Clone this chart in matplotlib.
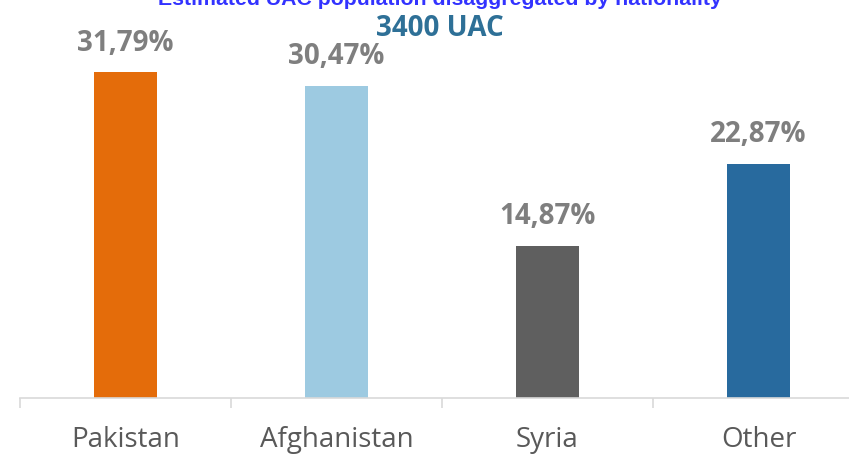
import numpy as np
import matplotlib
matplotlib.use("Agg")
import matplotlib.pyplot as plt

# data
countries = ["Pakistan", "Afghanistan", "Syria", "Other"]
shares = [31.79, 30.47, 14.87, 22.87]
labels = ["31,79%", "30,47%", "14,87%", "22,87%"]
colors = ["#E46C0A", "#9DCAE1", "#5F5F5F", "#286A9E"]

fig = plt.figure(figsize=(8.49, 4.54), dpi=100)
# axes: x from px 20 to ~864, baseline at px 398, top at px 0
ax = fig.add_axes([20 / 849, 1 - 398 / 454, 844 / 849, 398 / 454])

x = np.arange(len(countries))
ax.bar(x, shares, width=0.30, color=colors, zorder=2)

for xi, v, lab in zip(x, shares, labels):
    ax.annotate(lab, (xi, v), xytext=(0, 29), textcoords="offset pixels",
                ha="center", va="center", fontsize=20, fontweight="bold",
                color="#7F7F7F", family="Open Sans")

ax.set_xlim(-0.5, len(countries) - 0.5)
ax.set_ylim(0, 398 / 10.25)

for s in ["top", "right", "left"]:
    ax.spines[s].set_visible(False)
ax.spines["bottom"].set_color("#D9D9D9")
ax.spines["bottom"].set_linewidth(1.2)
ax.set_yticks([])

# category boundaries carry the tick marks
ax.set_xticks(np.arange(-0.5, len(countries), 1.0))
ax.set_xticklabels([])
ax.tick_params(axis="x", which="major", length=7, width=1.2, color="#D9D9D9")
ax.set_xticks(x, minor=True)
ax.set_xticklabels(countries, minor=True, fontsize=20, color="#595959",
                   family="Open Sans")
ax.tick_params(axis="x", which="minor", length=0, pad=20)

# first title line is clipped by the top edge in the reference
fig.text(440 / 849, 1 - 5 / 454, "Estimated UAC population disaggregated by nationality",
         ha="center", va="baseline", fontsize=15.3, fontweight="bold",
         color="#3333FF", family="Liberation Sans")
fig.text(440 / 849, 1 - 28 / 454, "3400 UAC", ha="center", va="center",
         fontsize=20, fontweight="bold", color="#2E7097", family="Open Sans")

fig.savefig("out.png", dpi=100)
